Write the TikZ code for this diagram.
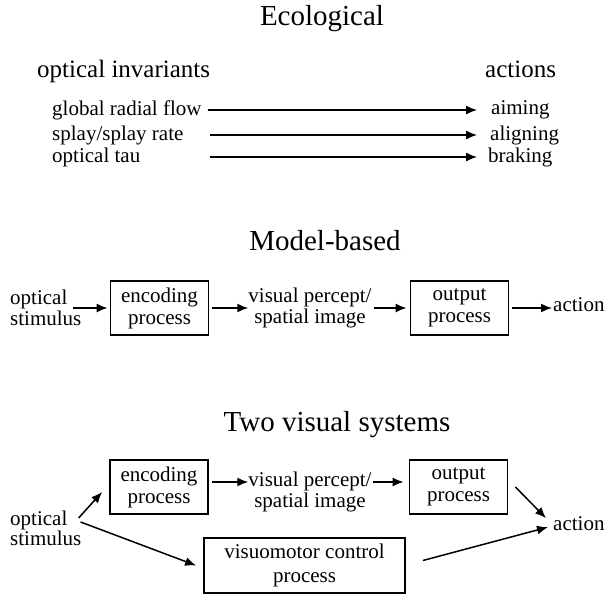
\documentclass[tikz,border=0pt]{standalone}
\usepackage{fontspec}
\setmainfont{Liberation Serif}
\usetikzlibrary{arrows.meta}
\tikzset{
  ttl/.style={font=\fontsize{29}{31}\selectfont, inner sep=0},
  hdr/.style={font=\fontsize{25}{27}\selectfont, inner sep=0},
  lbl/.style={font=\fontsize{21}{21}\selectfont, inner sep=0},
  blk/.style={draw, line width=1.8pt, inner sep=0, minimum width=98pt, minimum height=54pt, align=center, font=\fontsize{21}{22}\selectfont},
  arr/.style={line width=1.5pt, -{Latex[length=11pt,width=9pt]}}
}
\begin{document}
\begin{tikzpicture}[x=1pt,y=-1pt]
\useasboundingbox (0,0) rectangle (611,595);
% Ecological
\node[ttl,anchor=base] (eco) at (322,25) {Ecological};
\node[hdr,anchor=base west] (inv) at (37,77) {optical invariants};
\node[hdr,anchor=base west] (acts) at (485,77) {actions};
\node[lbl,anchor=west] (flow) at (52,110) {global radial flow};
\node[lbl,anchor=west] (splay) at (52,135) {splay/splay rate};
\node[lbl,anchor=west] (tau) at (52,157) {optical tau};
\node[lbl,anchor=west] (aim) at (491,110) {aiming};
\node[lbl,anchor=west] (align) at (490,135) {aligning};
\node[lbl,anchor=west] (brake) at (488,157) {braking};
\draw[arr,line width=1.3pt,shorten <=6pt,shorten >=14pt] (flow.east) -- (aim.west);
\draw[arr,line width=1.3pt,shorten <=8pt,shorten >=13pt] (flow.east |- splay.east) -- (align.west);
\draw[arr,line width=1.3pt,shorten <=8pt,shorten >=11pt] (flow.east |- tau.east) -- (brake.west);
% Model-based
\node[ttl,anchor=base] (mb) at (325,250) {Model-based};
\node[lbl,anchor=west,align=left] (stimA) at (10,308) {optical\\stimulus};
\node[blk] (encA) at (159.5,308) {encoding\\process};
\node[lbl,align=center] (imgA) at (310,308) {visual percept/\\spatial image};
\node[blk] (outA) at (459.5,308) {output\\process};
\node[lbl,anchor=base west] (actA) at (553,311) {action};
\draw[arr,shorten >=2pt] ([xshift=-9pt]stimA.east) -- (encA.west);
\draw[arr,shorten <=3pt] (encA.east) -- (imgA.west);
\draw[arr,shorten <=2pt,shorten >=3pt] (imgA.east) -- (outA.west);
\draw[arr,shorten <=3pt,shorten >=1pt] (outA.east) -- (outA.east -| actA.west);
% Two visual systems
\node[ttl,anchor=base] (tvs) at (337,431) {Two visual systems};
\node[lbl,anchor=west,align=left,font=\fontsize{21}{17}\selectfont] (stimB) at (10,528) {optical\\stimulus};
\node[blk] (encB) at (159,487) {encoding\\process};
\node[lbl,align=center] (imgB) at (310,492) {visual percept/\\spatial image};
\node[blk] (outB) at (458.5,487) {output\\process};
\node[blk,minimum width=201pt,minimum height=55pt,font=\fontsize{21}{24}\selectfont] (vm) at (304.5,565.5) {visuomotor control\\process};
\node[lbl,anchor=base west] (actB) at (553,530) {action};
\draw[arr] ([shift={(-3,-10)}]stimB.east) -- ([shift={(-7,5)}]encB.west);
\draw[arr] ([shift={(-1,-6)}]stimB.east) -- ([xshift=-7pt]vm.west);
\draw[arr] ([shift={(3,-5)}]encB.east) -- ([shift={(0,-10)}]imgB.west);
\draw[arr] ([shift={(1.5,-10)}]imgB.east) -- ([shift={(-5,-5)}]outB.west);
\draw[arr] ([shift={(7,0)}]outB.east) -- ([shift={(-7,-5)}]actB.west);
\draw[arr] ([shift={(17,-5)}]vm.east) -- ([shift={(-5,4)}]actB.west);
\end{tikzpicture}
\end{document}
